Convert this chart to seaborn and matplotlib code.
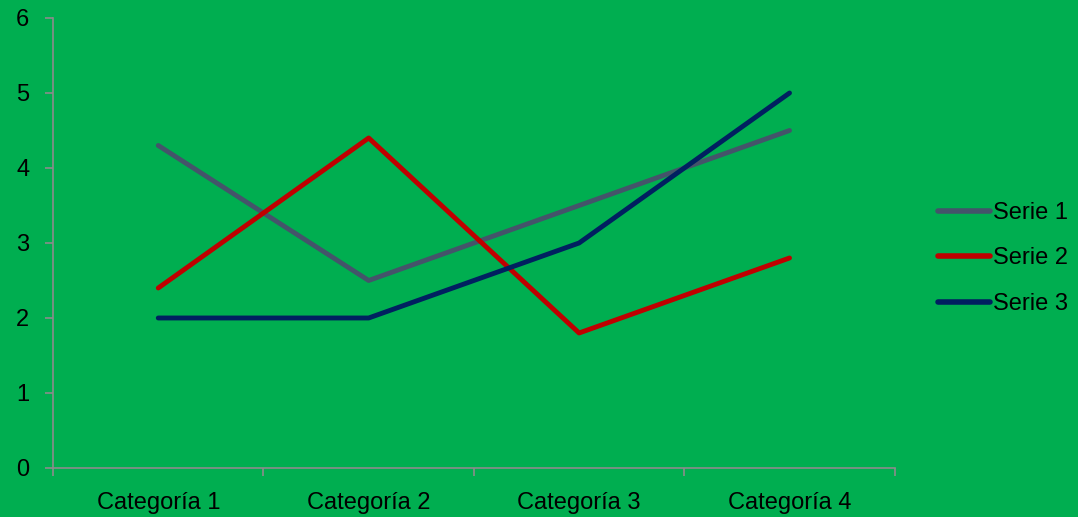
import pandas as pd
import matplotlib
matplotlib.use("Agg")
import matplotlib.pyplot as plt
import seaborn as sns

# data
categories = ["Categoría 1", "Categoría 2", "Categoría 3", "Categoría 4"]
serie1 = [4.3, 2.5, 3.5, 4.5]
serie2 = [2.4, 4.4, 1.8, 2.8]
serie3 = [2.0, 2.0, 3.0, 5.0]
series_names = ["Serie 1", "Serie 2", "Serie 3"]
colors = ["#44546A", "#C00000", "#002060"]

bg = "#00AE50"
grey = "#8C8C8C"

rows = []
for name, vals in zip(series_names, [serie1, serie2, serie3]):
    for i, v in enumerate(vals):
        rows.append({"pos": i, "valor": v, "serie": name})
df = pd.DataFrame(rows)

sns.set_style("white")
plt.rcParams['font.family'] = ['Liberation Sans', 'DejaVu Sans']
plt.rcParams['text.color'] = 'black'
plt.rcParams['xtick.labelcolor'] = 'black'
plt.rcParams['ytick.labelcolor'] = 'black'
plt.rcParams['xtick.bottom'] = True
plt.rcParams['ytick.left'] = True

fig = plt.figure(figsize=(10.78, 5.17), dpi=100, facecolor=bg)
ax = fig.add_axes([0.0492, 0.0948, 0.7808, 0.8704])
ax.set_facecolor(bg)

sns.lineplot(data=df, x="pos", y="valor", hue="serie", palette=colors,
             linewidth=3.5, sort=False, ax=ax, legend=True)

ax.set_xlim(-0.5, 3.5)
ax.set_ylim(0, 6)
ax.set_xticks(range(4))
ax.set_xticklabels(categories, fontsize=17)
ax.set_xticks([-0.5, 0.5, 1.5, 2.5, 3.5], minor=True)
ax.tick_params(axis="x", which="major", length=0, pad=17)
ax.tick_params(axis="x", which="minor", bottom=True, length=6, width=1.2,
               color=grey, direction="out")
ax.set_yticks(range(7))
ax.tick_params(axis="y", left=True, length=6, width=1.2, color=grey,
               direction="out", labelsize=17, pad=11)
ax.set_xlabel("")
ax.set_ylabel("")

for s in ["top", "right"]:
    ax.spines[s].set_visible(False)
for s in ["left", "bottom"]:
    ax.spines[s].set_color(grey)
    ax.spines[s].set_linewidth(1.2)

handles, labels = ax.get_legend_handles_labels()
for h in handles:
    h.set_linewidth(4)
    h.set_solid_capstyle("round")
ax.legend(handles, labels, loc="center left", bbox_to_anchor=(0.8615, 0.5),
          bbox_transform=fig.transFigure, frameon=False, fontsize=17,
          handlelength=2.2, handletextpad=0.12, labelspacing=1.0,
          borderaxespad=0)

fig.savefig("out.png", dpi=100, facecolor=bg)
